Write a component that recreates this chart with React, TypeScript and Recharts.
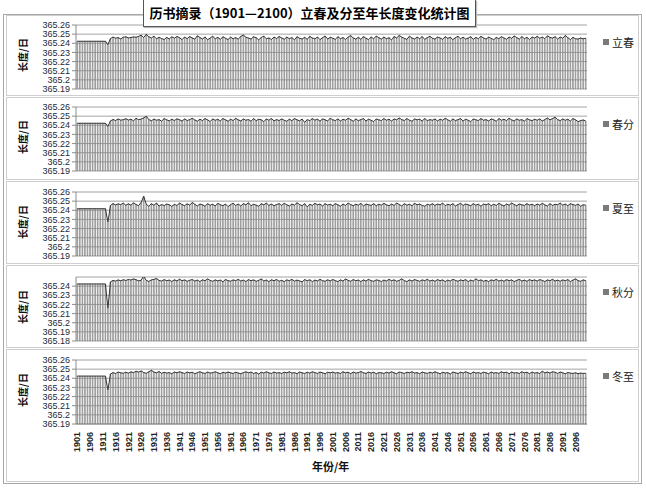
import { ComposedChart, Bar, Line, XAxis, YAxis, CartesianGrid } from "recharts";

// 年份 1901—2100
const YEARS = Array.from({ length: 200 }, (_, i) => String(1901 + i));

// 数值单位：0.0001 日，以 365.2 日为基准（422 => 365.2422）
const BASE = 365.2;

const LICHUN = [
  422, 422, 422, 422, 422, 422, 422, 422, 422, 422, 422, 422, 385, 452, 468, 455, 462, 448, 466, 471,
  458, 463, 470, 466, 475, 488, 462, 497, 471, 457, 478, 449, 465, 452, 441, 464, 448, 470, 456, 474,
  462, 440, 468, 451, 473, 458, 445, 482, 463, 447, 469, 438, 457, 476, 450, 464, 443, 471, 455, 441,
  467, 450, 462, 444, 476, 489, 466, 457, 446, 471, 461, 438, 463, 478, 449, 458, 442, 468, 452, 474,
  459, 444, 468, 451, 462, 437, 472, 455, 447, 465, 443, 476, 458, 449, 468, 440, 461, 479, 446, 466,
  455, 443, 472, 450, 462, 441, 468, 484, 458, 446, 465, 443, 473, 455, 440, 469, 449, 478, 461, 446,
  468, 450, 461, 437, 473, 458, 485, 467, 454, 443, 477, 458, 446, 468, 450, 473, 443, 462, 476, 455,
  446, 468, 458, 443, 472, 454, 465, 440, 461, 477, 449, 467, 446, 457, 472, 443, 464, 450, 476, 458,
  446, 467, 454, 440, 464, 450, 472, 458, 443, 468, 454, 480, 462, 446, 473, 450, 465, 441, 468, 457,
  476, 455, 468, 450, 481, 464, 457, 472, 446, 468, 455, 485, 461, 440, 465, 450, 446, 458, 449, 455,
];

const CHUNFEN = [
  422, 422, 422, 422, 422, 422, 422, 422, 422, 422, 422, 422, 388, 448, 463, 452, 469, 456, 461, 472,
  457, 466, 449, 475, 462, 468, 481, 498, 463, 449, 468, 455, 462, 445, 473, 460, 448, 466, 452, 470,
  461, 446, 469, 452, 462, 476, 458, 445, 466, 452, 473, 460, 441, 469, 455, 465, 448, 473, 460, 444,
  466, 452, 476, 460, 447, 469, 455, 463, 444, 473, 451, 466, 460, 440, 469, 455, 474, 448, 462, 452,
  469, 455, 444, 466, 451, 473, 460, 448, 468, 432, 462, 451, 473, 456, 466, 445, 469, 460, 447, 477,
  460, 452, 469, 447, 466, 455, 476, 462, 444, 469, 451, 462, 473, 447, 466, 455, 440, 469, 460, 452,
  473, 455, 466, 447, 469, 460, 479, 462, 452, 473, 455, 444, 469, 460, 466, 447, 473, 451, 462, 455,
  469, 447, 466, 455, 476, 460, 444, 469, 451, 462, 473, 447, 466, 455, 440, 469, 460, 452, 473, 455,
  462, 447, 469, 460, 444, 473, 455, 466, 451, 476, 460, 447, 469, 455, 462, 444, 473, 460, 451, 466,
  455, 469, 447, 462, 479, 460, 473, 488, 462, 451, 469, 455, 466, 447, 473, 460, 440, 451, 458, 446,
];

const XIAZHI = [
  417, 417, 417, 417, 417, 417, 417, 417, 417, 417, 417, 417, 272, 452, 473, 458, 470, 462, 478, 455,
  471, 456, 481, 463, 450, 486, 553, 466, 443, 472, 455, 479, 446, 463, 451, 468, 460, 442, 465, 453,
  478, 463, 450, 471, 456, 485, 465, 447, 468, 460, 444, 472, 455, 466, 447, 476, 460, 451, 468, 440,
  462, 477, 453, 468, 447, 472, 460, 482, 450, 466, 456, 444, 472, 460, 478, 453, 468, 450, 463, 472,
  453, 476, 460, 447, 468, 456, 482, 463, 450, 472, 437, 466, 453, 476, 460, 468, 447, 472, 456, 466,
  450, 472, 460, 444, 468, 453, 478, 463, 450, 466, 456, 476, 447, 468, 460, 453, 472, 450, 466, 456,
  476, 460, 450, 468, 453, 479, 463, 447, 472, 456, 466, 450, 476, 460, 468, 453, 444, 466, 456, 472,
  453, 468, 460, 478, 450, 466, 456, 472, 447, 463, 476, 453, 468, 460, 450, 472, 456, 466, 444, 468,
  460, 472, 450, 466, 453, 476, 460, 447, 468, 456, 479, 463, 450, 468, 460, 453, 472, 456, 466, 450,
  468, 456, 476, 460, 447, 472, 453, 466, 460, 479, 456, 468, 450, 472, 463, 453, 468, 444, 460, 456,
];

const QIUFEN = [
  424, 424, 424, 424, 424, 424, 424, 424, 424, 424, 424, 424, 159, 446, 463, 455, 468, 458, 470, 462,
  473, 467, 479, 470, 458, 464, 512, 462, 452, 468, 474, 483, 463, 455, 471, 460, 466, 451, 469, 457,
  475, 460, 468, 453, 464, 472, 456, 466, 450, 469, 460, 478, 463, 453, 468, 457, 466, 448, 472, 460,
  454, 468, 460, 474, 456, 466, 450, 471, 460, 468, 453, 463, 478, 457, 466, 450, 469, 460, 472, 454,
  463, 450, 468, 460, 474, 454, 466, 457, 447, 471, 460, 469, 450, 466, 457, 474, 460, 453, 469, 457,
  472, 460, 450, 468, 456, 478, 463, 453, 471, 460, 466, 450, 468, 456, 474, 460, 453, 468, 463, 450,
  466, 456, 474, 460, 468, 453, 463, 479, 460, 450, 468, 456, 471, 463, 453, 468, 460, 474, 456, 466,
  453, 471, 460, 468, 450, 466, 456, 474, 463, 453, 468, 460, 471, 450, 466, 456, 479, 460, 468, 453,
  463, 450, 468, 460, 474, 456, 466, 453, 471, 460, 468, 450, 463, 474, 456, 466, 453, 471, 460, 468,
  456, 471, 463, 450, 468, 460, 474, 456, 466, 453, 468, 460, 471, 450, 466, 479, 460, 453, 468, 460,
];

const DONGZHI = [
  424, 424, 424, 424, 424, 424, 424, 424, 424, 424, 424, 424, 272, 447, 462, 452, 468, 460, 455, 466,
  456, 470, 462, 476, 468, 480, 463, 454, 471, 487, 468, 460, 474, 454, 466, 457, 462, 450, 468, 460,
  471, 462, 453, 468, 460, 466, 450, 462, 471, 460, 453, 468, 457, 462, 471, 460, 450, 466, 457, 468,
  460, 453, 466, 457, 450, 462, 471, 460, 468, 453, 462, 447, 466, 457, 471, 460, 453, 468, 457, 462,
  453, 466, 460, 471, 457, 462, 450, 468, 460, 453, 466, 457, 471, 462, 453, 468, 460, 450, 466, 460,
  468, 457, 462, 453, 471, 460, 466, 450, 468, 457, 462, 474, 460, 453, 468, 457, 466, 450, 462, 460,
  453, 466, 457, 471, 460, 450, 468, 462, 453, 466, 460, 471, 457, 462, 450, 468, 460, 453, 466, 457,
  471, 460, 450, 466, 457, 462, 447, 468, 460, 453, 466, 457, 471, 460, 450, 468, 457, 462, 453, 466,
  460, 450, 468, 457, 462, 453, 471, 460, 466, 450, 468, 457, 462, 453, 471, 460, 466, 450, 468, 457,
  462, 453, 476, 460, 468, 457, 471, 466, 453, 468, 460, 450, 462, 457, 453, 460, 450, 457, 453, 455,
];

const TICKS_A = [365.19, 365.2, 365.21, 365.22, 365.23, 365.24, 365.25, 365.26];
const TICKS_B = [365.18, 365.19, 365.2, 365.21, 365.22, 365.23, 365.24];

const PANELS = [
  { name: "立春", values: LICHUN, domain: [365.19, 365.26], ticks: TICKS_A, boxTop: 15, boxH: 82, plotTop: 25 },
  { name: "春分", values: CHUNFEN, domain: [365.19, 365.26], ticks: TICKS_A, boxTop: 97, boxH: 84, plotTop: 107 },
  { name: "夏至", values: XIAZHI, domain: [365.19, 365.26], ticks: TICKS_A, boxTop: 181, boxH: 84, plotTop: 192 },
  { name: "秋分", values: QIUFEN, domain: [365.18, 365.25], ticks: TICKS_B, boxTop: 265, boxH: 84, plotTop: 277 },
  { name: "冬至", values: DONGZHI, domain: [365.19, 365.26], ticks: TICKS_A, boxTop: 349, boxH: 134, plotTop: 360 },
];

const PLOT_H = 64;
const CJK = '"Noto Sans CJK SC", "Noto Sans", sans-serif';
const NUM = '"Liberation Sans", Arial, sans-serif';

const YearTick = (props: any) => {
  const { x, y, payload } = props;
  const ty = y + 2;
  return (
    <text
      x={x}
      y={ty}
      transform={`rotate(-90, ${x}, ${ty})`}
      textAnchor="end"
      dy="0.35em"
      fontSize={9}
      fontWeight="bold"
      fontFamily={NUM}
      fill="#222"
    >
      {payload.value}
    </text>
  );
};

function Panel({ p, last }: { p: (typeof PANELS)[number]; last: boolean }) {
  const data = YEARS.map((year, i) => ({ year, v: +(BASE + p.values[i] / 10000).toFixed(4) }));
  const top = 5;
  const chartH = last ? PLOT_H + top + 44 : PLOT_H + top + 6;
  return (
    <>
      <div
        style={{
          position: "absolute",
          left: 6,
          top: p.boxTop,
          width: 631,
          height: p.boxH - 3,
          border: "1px solid #cfcfcf",
          background: "#fff",
        }}
      />
      <div style={{ position: "absolute", left: 0, top: p.plotTop - top }}>
        <ComposedChart
          width={646}
          height={chartH}
          data={data}
          margin={{ top, right: 59, bottom: last ? 0 : 6, left: 8 }}
          barCategoryGap="35%"
        >
          <CartesianGrid vertical={false} stroke="#8c8c8c" strokeWidth={0.8} />
          {last ? (
            <XAxis
              dataKey="year"
              interval={4}
              height={44}
              axisLine={{ stroke: "#8c8c8c" }}
              tickLine={false}
              tickSize={4}
              tickMargin={2}
              tick={<YearTick />}
            />
          ) : (
            <XAxis dataKey="year" hide />
          )}
          <YAxis
            type="number"
            domain={p.domain}
            ticks={p.ticks}
            interval={0}
            allowDataOverflow
            width={68}
            axisLine={{ stroke: "#8c8c8c" }}
            tickLine={{ stroke: "#8c8c8c" }}
            tickSize={4}
            tickMargin={2}
            tick={{ fontSize: 9, fill: "#1d2a3a", fontFamily: NUM }}
          />
          <Bar dataKey="v" fill="#d0d0d0" stroke="#666" strokeWidth={0.5} isAnimationActive={false} />
          <Line
            type="linear"
            dataKey="v"
            stroke="#333"
            strokeWidth={1}
            dot={false}
            activeDot={false}
            isAnimationActive={false}
          />
        </ComposedChart>
      </div>
      {/* 纵轴标题 */}
      <div
        style={{
          position: "absolute",
          left: 22,
          top: p.plotTop + PLOT_H / 2 - 2,
          transform: "translate(-50%, -50%) rotate(-90deg)",
          fontFamily: CJK,
          fontWeight: "bold",
          fontSize: 10,
          whiteSpace: "nowrap",
          color: "#111",
        }}
      >
        长度/日
      </div>
      {/* 图例 */}
      <div
        style={{
          position: "absolute",
          left: 603,
          top: p.boxTop + 19,
          display: "flex",
          alignItems: "center",
          fontFamily: CJK,
          fontSize: 11,
          color: "#222",
        }}
      >
        <span style={{ display: "inline-block", width: 6, height: 6, background: "#7a7a7a", marginRight: 3 }} />
        {p.name}
      </div>
    </>
  );
}

export default function App() {
  return (
    <div
      style={{
        position: "absolute",
        left: 0,
        top: 0,
        width: 646,
        height: 488,
        background: "#fff",
        overflow: "hidden",
      }}
    >
      <div
        style={{
          position: "absolute",
          left: 3,
          top: 14,
          width: 637,
          height: 468,
          border: "1px solid #a8a8a8",
        }}
      />
      {PANELS.map((p, i) => (
        <Panel key={p.name} p={p} last={i === PANELS.length - 1} />
      ))}
      <div
        style={{
          position: "absolute",
          left: 312,
          top: 458,
          fontFamily: CJK,
          fontWeight: "bold",
          fontSize: 11,
          color: "#111",
        }}
      >
        年份/年
      </div>
      <div
        style={{
          position: "absolute",
          left: 143,
          top: 0,
          width: 331,
          height: 26,
          border: "1px solid #555",
          borderTop: "none",
          background: "#fff",
          boxShadow: "1px 1px 1px #bbb",
          textAlign: "center",
          whiteSpace: "nowrap",
          lineHeight: "26px",
          fontFamily: CJK,
          fontWeight: "bold",
          fontSize: 13,
          color: "#000",
        }}
      >
        历书摘录（1901—2100）立春及分至年长度变化统计图
      </div>
    </div>
  );
}
